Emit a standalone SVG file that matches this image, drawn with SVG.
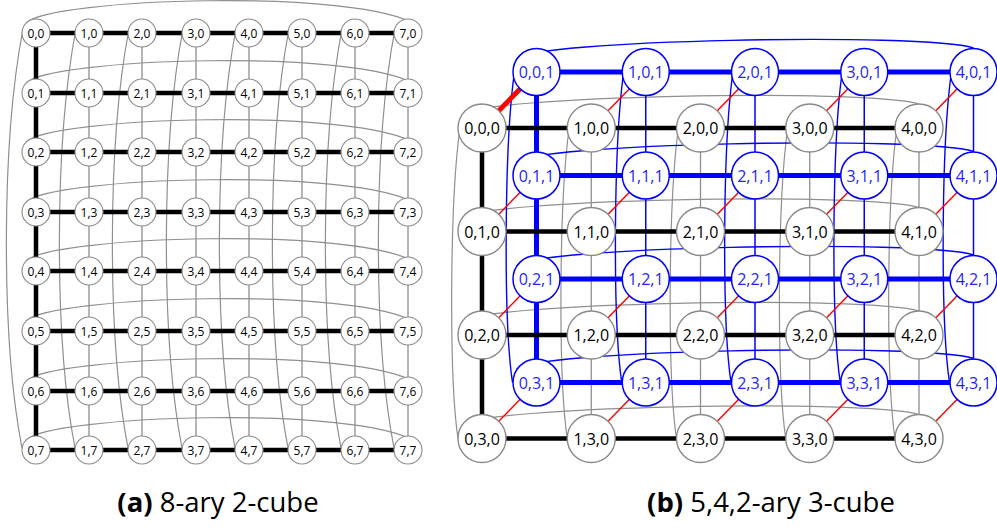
<svg xmlns="http://www.w3.org/2000/svg" width="997" height="529" viewBox="0 0 997 529">
<style>
  .bg { fill: #ffffff; }
  .wrap-g { fill: none; stroke: #8f8f8f; stroke-width: 1.2; }
  .wrap-b { fill: none; stroke: #0000ff; stroke-width: 1.4; }
  .thin-g { fill: none; stroke: #8f8f8f; stroke-width: 1.3; }
  .thin-b { fill: none; stroke: #0000ff; stroke-width: 1.5; }
  .thick-k { fill: none; stroke: #000000; stroke-width: 4.5; }
  .thick-b { fill: none; stroke: #0000ff; stroke-width: 5; }
  .thin-r { fill: none; stroke: #ff0000; stroke-width: 1.4; }
  .thick-r { fill: none; stroke: #ff0000; stroke-width: 5; }
  .sn circle { fill: #ffffff; stroke: #8a8a8a; stroke-width: 1.1; }
  .sn text { font-family: "Open Sans", "Liberation Sans", sans-serif; font-size: 12px; fill: #000000; text-anchor: middle; }
  .n0 circle { fill: #ffffff; stroke: #8a8a8a; stroke-width: 1.4; }
  .n0 text { font-family: "Open Sans", "Liberation Sans", sans-serif; font-size: 16px; fill: #000000; text-anchor: middle; }
  .n1 circle { fill: #ffffff; stroke: #0000ff; stroke-width: 1.5; }
  .n1 text { font-family: "Open Sans", "Liberation Sans", sans-serif; font-size: 16px; fill: #1f1fff; text-anchor: middle; }
  .cap { font-family: "Open Sans", "Liberation Sans", sans-serif; font-size: 27.5px; fill: #000000; text-anchor: middle; }
  .cap tspan.tag { font-weight: bold; }
</style>
<rect class="bg" x="0" y="0" width="997" height="529"/>

<!-- (a) 8-ary 2-cube: connectors -->
<g id="torus2d-links">
  <!-- wraparound links along each row -->
  <path class="wrap-g" d="M26,23 C50,-2 360,-12 416,25"/>
  <path class="wrap-g" d="M26,83 C50,58 360,48 416,85"/>
  <path class="wrap-g" d="M26,142 C50,117 360,107 416,144"/>
  <path class="wrap-g" d="M26,202 C50,177 360,167 416,204"/>
  <path class="wrap-g" d="M26,261 C50,236 360,226 416,263"/>
  <path class="wrap-g" d="M26,321 C50,296 360,286 416,323"/>
  <path class="wrap-g" d="M26,381 C50,356 360,346 416,383"/>
  <path class="wrap-g" d="M26,440 C50,415 360,405 416,442"/>
  <!-- wraparound links along each column -->
  <path class="wrap-g" d="M23,29 C1,143 1,340 22,448"/>
  <path class="wrap-g" d="M76,29 C54,143 54,340 75,448"/>
  <path class="wrap-g" d="M129,29 C107,143 107,340 128,448"/>
  <path class="wrap-g" d="M183,29 C161,143 161,340 182,448"/>
  <path class="wrap-g" d="M236,29 C214,143 214,340 235,448"/>
  <path class="wrap-g" d="M289,29 C267,143 267,340 288,448"/>
  <path class="wrap-g" d="M342,29 C320,143 320,340 341,448"/>
  <path class="wrap-g" d="M395,29 C373,143 373,340 394,448"/>
  <!-- column links -->
  <path class="thin-g" d="M89,33 V450 M142,33 V450 M196,33 V450 M249,33 V450 M302,33 V450 M355,33 V450 M408,33 V450"/>
  <path class="thick-k" d="M36,33 V450"/>
  <!-- row links -->
  <path class="thick-k" d="M36,33 H408 M36,93 H408 M36,152 H408 M36,212 H408 M36,271 H408 M36,331 H408 M36,391 H408 M36,450 H408"/>
</g>

<!-- (a) nodes -->
<g id="a-0-0" class="sn"><circle cx="36" cy="33" r="14"/><text x="36" y="37.5">0,0</text></g>
<g id="a-1-0" class="sn"><circle cx="89" cy="33" r="14"/><text x="89" y="37.5">1,0</text></g>
<g id="a-2-0" class="sn"><circle cx="142" cy="33" r="14"/><text x="142" y="37.5">2,0</text></g>
<g id="a-3-0" class="sn"><circle cx="196" cy="33" r="14"/><text x="196" y="37.5">3,0</text></g>
<g id="a-4-0" class="sn"><circle cx="249" cy="33" r="14"/><text x="249" y="37.5">4,0</text></g>
<g id="a-5-0" class="sn"><circle cx="302" cy="33" r="14"/><text x="302" y="37.5">5,0</text></g>
<g id="a-6-0" class="sn"><circle cx="355" cy="33" r="14"/><text x="355" y="37.5">6,0</text></g>
<g id="a-7-0" class="sn"><circle cx="408" cy="33" r="14"/><text x="408" y="37.5">7,0</text></g>

<g id="a-0-1" class="sn"><circle cx="36" cy="93" r="14"/><text x="36" y="97.5">0,1</text></g>
<g id="a-1-1" class="sn"><circle cx="89" cy="93" r="14"/><text x="89" y="97.5">1,1</text></g>
<g id="a-2-1" class="sn"><circle cx="142" cy="93" r="14"/><text x="142" y="97.5">2,1</text></g>
<g id="a-3-1" class="sn"><circle cx="196" cy="93" r="14"/><text x="196" y="97.5">3,1</text></g>
<g id="a-4-1" class="sn"><circle cx="249" cy="93" r="14"/><text x="249" y="97.5">4,1</text></g>
<g id="a-5-1" class="sn"><circle cx="302" cy="93" r="14"/><text x="302" y="97.5">5,1</text></g>
<g id="a-6-1" class="sn"><circle cx="355" cy="93" r="14"/><text x="355" y="97.5">6,1</text></g>
<g id="a-7-1" class="sn"><circle cx="408" cy="93" r="14"/><text x="408" y="97.5">7,1</text></g>

<g id="a-0-2" class="sn"><circle cx="36" cy="152" r="14"/><text x="36" y="156.5">0,2</text></g>
<g id="a-1-2" class="sn"><circle cx="89" cy="152" r="14"/><text x="89" y="156.5">1,2</text></g>
<g id="a-2-2" class="sn"><circle cx="142" cy="152" r="14"/><text x="142" y="156.5">2,2</text></g>
<g id="a-3-2" class="sn"><circle cx="196" cy="152" r="14"/><text x="196" y="156.5">3,2</text></g>
<g id="a-4-2" class="sn"><circle cx="249" cy="152" r="14"/><text x="249" y="156.5">4,2</text></g>
<g id="a-5-2" class="sn"><circle cx="302" cy="152" r="14"/><text x="302" y="156.5">5,2</text></g>
<g id="a-6-2" class="sn"><circle cx="355" cy="152" r="14"/><text x="355" y="156.5">6,2</text></g>
<g id="a-7-2" class="sn"><circle cx="408" cy="152" r="14"/><text x="408" y="156.5">7,2</text></g>

<g id="a-0-3" class="sn"><circle cx="36" cy="212" r="14"/><text x="36" y="216.5">0,3</text></g>
<g id="a-1-3" class="sn"><circle cx="89" cy="212" r="14"/><text x="89" y="216.5">1,3</text></g>
<g id="a-2-3" class="sn"><circle cx="142" cy="212" r="14"/><text x="142" y="216.5">2,3</text></g>
<g id="a-3-3" class="sn"><circle cx="196" cy="212" r="14"/><text x="196" y="216.5">3,3</text></g>
<g id="a-4-3" class="sn"><circle cx="249" cy="212" r="14"/><text x="249" y="216.5">4,3</text></g>
<g id="a-5-3" class="sn"><circle cx="302" cy="212" r="14"/><text x="302" y="216.5">5,3</text></g>
<g id="a-6-3" class="sn"><circle cx="355" cy="212" r="14"/><text x="355" y="216.5">6,3</text></g>
<g id="a-7-3" class="sn"><circle cx="408" cy="212" r="14"/><text x="408" y="216.5">7,3</text></g>

<g id="a-0-4" class="sn"><circle cx="36" cy="271" r="14"/><text x="36" y="275.5">0,4</text></g>
<g id="a-1-4" class="sn"><circle cx="89" cy="271" r="14"/><text x="89" y="275.5">1,4</text></g>
<g id="a-2-4" class="sn"><circle cx="142" cy="271" r="14"/><text x="142" y="275.5">2,4</text></g>
<g id="a-3-4" class="sn"><circle cx="196" cy="271" r="14"/><text x="196" y="275.5">3,4</text></g>
<g id="a-4-4" class="sn"><circle cx="249" cy="271" r="14"/><text x="249" y="275.5">4,4</text></g>
<g id="a-5-4" class="sn"><circle cx="302" cy="271" r="14"/><text x="302" y="275.5">5,4</text></g>
<g id="a-6-4" class="sn"><circle cx="355" cy="271" r="14"/><text x="355" y="275.5">6,4</text></g>
<g id="a-7-4" class="sn"><circle cx="408" cy="271" r="14"/><text x="408" y="275.5">7,4</text></g>

<g id="a-0-5" class="sn"><circle cx="36" cy="331" r="14"/><text x="36" y="335.5">0,5</text></g>
<g id="a-1-5" class="sn"><circle cx="89" cy="331" r="14"/><text x="89" y="335.5">1,5</text></g>
<g id="a-2-5" class="sn"><circle cx="142" cy="331" r="14"/><text x="142" y="335.5">2,5</text></g>
<g id="a-3-5" class="sn"><circle cx="196" cy="331" r="14"/><text x="196" y="335.5">3,5</text></g>
<g id="a-4-5" class="sn"><circle cx="249" cy="331" r="14"/><text x="249" y="335.5">4,5</text></g>
<g id="a-5-5" class="sn"><circle cx="302" cy="331" r="14"/><text x="302" y="335.5">5,5</text></g>
<g id="a-6-5" class="sn"><circle cx="355" cy="331" r="14"/><text x="355" y="335.5">6,5</text></g>
<g id="a-7-5" class="sn"><circle cx="408" cy="331" r="14"/><text x="408" y="335.5">7,5</text></g>

<g id="a-0-6" class="sn"><circle cx="36" cy="391" r="14"/><text x="36" y="395.5">0,6</text></g>
<g id="a-1-6" class="sn"><circle cx="89" cy="391" r="14"/><text x="89" y="395.5">1,6</text></g>
<g id="a-2-6" class="sn"><circle cx="142" cy="391" r="14"/><text x="142" y="395.5">2,6</text></g>
<g id="a-3-6" class="sn"><circle cx="196" cy="391" r="14"/><text x="196" y="395.5">3,6</text></g>
<g id="a-4-6" class="sn"><circle cx="249" cy="391" r="14"/><text x="249" y="395.5">4,6</text></g>
<g id="a-5-6" class="sn"><circle cx="302" cy="391" r="14"/><text x="302" y="395.5">5,6</text></g>
<g id="a-6-6" class="sn"><circle cx="355" cy="391" r="14"/><text x="355" y="395.5">6,6</text></g>
<g id="a-7-6" class="sn"><circle cx="408" cy="391" r="14"/><text x="408" y="395.5">7,6</text></g>

<g id="a-0-7" class="sn"><circle cx="36" cy="450" r="14"/><text x="36" y="454.5">0,7</text></g>
<g id="a-1-7" class="sn"><circle cx="89" cy="450" r="14"/><text x="89" y="454.5">1,7</text></g>
<g id="a-2-7" class="sn"><circle cx="142" cy="450" r="14"/><text x="142" y="454.5">2,7</text></g>
<g id="a-3-7" class="sn"><circle cx="196" cy="450" r="14"/><text x="196" y="454.5">3,7</text></g>
<g id="a-4-7" class="sn"><circle cx="249" cy="450" r="14"/><text x="249" y="454.5">4,7</text></g>
<g id="a-5-7" class="sn"><circle cx="302" cy="450" r="14"/><text x="302" y="454.5">5,7</text></g>
<g id="a-6-7" class="sn"><circle cx="355" cy="450" r="14"/><text x="355" y="454.5">6,7</text></g>
<g id="a-7-7" class="sn"><circle cx="408" cy="450" r="14"/><text x="408" y="454.5">7,7</text></g>

<!-- (b) 5,4,2-ary 3-cube: connectors -->
<g id="torus3d-links">
  <!-- layer z=0: wraparound links -->
  <path class="wrap-g" d="M462,115 C474,96 869,88 919,104"/>
  <path class="wrap-g" d="M462,218.5 C474,199.5 869,191.5 919,207.5"/>
  <path class="wrap-g" d="M462,322 C474,303 869,295 919,311"/>
  <path class="wrap-g" d="M462,425.5 C474,406.5 869,398.5 919,414.5"/>
  <path class="wrap-g" d="M462,115 C449,188 449,378.5 458,438.5"/>
  <path class="wrap-g" d="M571.25,115 C558.25,188 558.25,378.5 567.25,438.5"/>
  <path class="wrap-g" d="M680.5,115 C667.5,188 667.5,378.5 676.5,438.5"/>
  <path class="wrap-g" d="M789.75,115 C776.75,188 776.75,378.5 785.75,438.5"/>
  <path class="wrap-g" d="M899,115 C886,188 886,378.5 895,438.5"/>
  <!-- layer z=0: thin column links -->
  <path class="thin-g" d="M591.25,128 V438.5 M700.5,128 V438.5 M809.75,128 V438.5 M919,128 V438.5"/>

  <!-- layer z=1: wraparound links -->
  <path class="wrap-b" d="M516.5,59 C528.5,40 923.5,32 973.5,48"/>
  <path class="wrap-b" d="M516.5,162.5 C528.5,143.5 923.5,135.5 973.5,151.5"/>
  <path class="wrap-b" d="M516.5,266 C528.5,247 923.5,239 973.5,255"/>
  <path class="wrap-b" d="M516.5,369.5 C528.5,350.5 923.5,342.5 973.5,358.5"/>
  <path class="wrap-b" d="M516.5,59 C503.5,132 503.5,322.5 512.5,382.5"/>
  <path class="wrap-b" d="M625.75,59 C612.75,132 612.75,322.5 621.75,382.5"/>
  <path class="wrap-b" d="M735,59 C722,132 722,322.5 731,382.5"/>
  <path class="wrap-b" d="M844.25,59 C831.25,132 831.25,322.5 840.25,382.5"/>
  <path class="wrap-b" d="M953.5,59 C940.5,132 940.5,322.5 949.5,382.5"/>
  <!-- layer z=1: column and row links -->
  <path class="thin-b" d="M645.75,72 V382.5 M755,72 V382.5 M864.25,72 V382.5 M973.5,72 V382.5"/>
  <path class="thick-b" d="M536.5,72 V382.5"/>
  <path class="thick-b" d="M536.5,72 H973.5 M536.5,175.5 H973.5 M536.5,279 H973.5 M536.5,382.5 H973.5"/>

  <!-- layer z=0: row links and first column -->
  <path class="thick-k" d="M482,128 V438.5"/>
  <path class="thick-k" d="M482,128 H919 M482,231.5 H919 M482,335 H919 M482,438.5 H919"/>

  <!-- links between the two layers -->
  <path class="thick-r" d="M482,128 l54.5,-56"/>
  <path class="thin-r" d="M591.25,128 l54.5,-56 M700.5,128 l54.5,-56 M809.75,128 l54.5,-56 M919,128 l54.5,-56"/>
  <path class="thin-r" d="M482,231.5 l54.5,-56 M591.25,231.5 l54.5,-56 M700.5,231.5 l54.5,-56 M809.75,231.5 l54.5,-56 M919,231.5 l54.5,-56"/>
  <path class="thin-r" d="M482,335 l54.5,-56 M591.25,335 l54.5,-56 M700.5,335 l54.5,-56 M809.75,335 l54.5,-56 M919,335 l54.5,-56"/>
  <path class="thin-r" d="M482,438.5 l54.5,-56 M591.25,438.5 l54.5,-56 M700.5,438.5 l54.5,-56 M809.75,438.5 l54.5,-56 M919,438.5 l54.5,-56"/>
</g>

<!-- (b) nodes, layer z=1 -->
<g id="b-0-0-1" class="n1"><circle cx="536.5" cy="72" r="23.5"/><text x="536.5" y="78">0,0,1</text></g>
<g id="b-1-0-1" class="n1"><circle cx="645.75" cy="72" r="23.5"/><text x="645.75" y="78">1,0,1</text></g>
<g id="b-2-0-1" class="n1"><circle cx="755" cy="72" r="23.5"/><text x="755" y="78">2,0,1</text></g>
<g id="b-3-0-1" class="n1"><circle cx="864.25" cy="72" r="23.5"/><text x="864.25" y="78">3,0,1</text></g>
<g id="b-4-0-1" class="n1"><circle cx="973.5" cy="72" r="23.5"/><text x="973.5" y="78">4,0,1</text></g>

<g id="b-0-1-1" class="n1"><circle cx="536.5" cy="175.5" r="23.5"/><text x="536.5" y="181.5">0,1,1</text></g>
<g id="b-1-1-1" class="n1"><circle cx="645.75" cy="175.5" r="23.5"/><text x="645.75" y="181.5">1,1,1</text></g>
<g id="b-2-1-1" class="n1"><circle cx="755" cy="175.5" r="23.5"/><text x="755" y="181.5">2,1,1</text></g>
<g id="b-3-1-1" class="n1"><circle cx="864.25" cy="175.5" r="23.5"/><text x="864.25" y="181.5">3,1,1</text></g>
<g id="b-4-1-1" class="n1"><circle cx="973.5" cy="175.5" r="23.5"/><text x="973.5" y="181.5">4,1,1</text></g>

<g id="b-0-2-1" class="n1"><circle cx="536.5" cy="279" r="23.5"/><text x="536.5" y="285">0,2,1</text></g>
<g id="b-1-2-1" class="n1"><circle cx="645.75" cy="279" r="23.5"/><text x="645.75" y="285">1,2,1</text></g>
<g id="b-2-2-1" class="n1"><circle cx="755" cy="279" r="23.5"/><text x="755" y="285">2,2,1</text></g>
<g id="b-3-2-1" class="n1"><circle cx="864.25" cy="279" r="23.5"/><text x="864.25" y="285">3,2,1</text></g>
<g id="b-4-2-1" class="n1"><circle cx="973.5" cy="279" r="23.5"/><text x="973.5" y="285">4,2,1</text></g>

<g id="b-0-3-1" class="n1"><circle cx="536.5" cy="382.5" r="23.5"/><text x="536.5" y="388.5">0,3,1</text></g>
<g id="b-1-3-1" class="n1"><circle cx="645.75" cy="382.5" r="23.5"/><text x="645.75" y="388.5">1,3,1</text></g>
<g id="b-2-3-1" class="n1"><circle cx="755" cy="382.5" r="23.5"/><text x="755" y="388.5">2,3,1</text></g>
<g id="b-3-3-1" class="n1"><circle cx="864.25" cy="382.5" r="23.5"/><text x="864.25" y="388.5">3,3,1</text></g>
<g id="b-4-3-1" class="n1"><circle cx="973.5" cy="382.5" r="23.5"/><text x="973.5" y="388.5">4,3,1</text></g>

<!-- (b) nodes, layer z=0 -->
<g id="b-0-0-0" class="n0"><circle cx="482" cy="128" r="24"/><text x="482" y="134">0,0,0</text></g>
<g id="b-1-0-0" class="n0"><circle cx="591.25" cy="128" r="24"/><text x="591.25" y="134">1,0,0</text></g>
<g id="b-2-0-0" class="n0"><circle cx="700.5" cy="128" r="24"/><text x="700.5" y="134">2,0,0</text></g>
<g id="b-3-0-0" class="n0"><circle cx="809.75" cy="128" r="24"/><text x="809.75" y="134">3,0,0</text></g>
<g id="b-4-0-0" class="n0"><circle cx="919" cy="128" r="24"/><text x="919" y="134">4,0,0</text></g>

<g id="b-0-1-0" class="n0"><circle cx="482" cy="231.5" r="24"/><text x="482" y="237.5">0,1,0</text></g>
<g id="b-1-1-0" class="n0"><circle cx="591.25" cy="231.5" r="24"/><text x="591.25" y="237.5">1,1,0</text></g>
<g id="b-2-1-0" class="n0"><circle cx="700.5" cy="231.5" r="24"/><text x="700.5" y="237.5">2,1,0</text></g>
<g id="b-3-1-0" class="n0"><circle cx="809.75" cy="231.5" r="24"/><text x="809.75" y="237.5">3,1,0</text></g>
<g id="b-4-1-0" class="n0"><circle cx="919" cy="231.5" r="24"/><text x="919" y="237.5">4,1,0</text></g>

<g id="b-0-2-0" class="n0"><circle cx="482" cy="335" r="24"/><text x="482" y="341">0,2,0</text></g>
<g id="b-1-2-0" class="n0"><circle cx="591.25" cy="335" r="24"/><text x="591.25" y="341">1,2,0</text></g>
<g id="b-2-2-0" class="n0"><circle cx="700.5" cy="335" r="24"/><text x="700.5" y="341">2,2,0</text></g>
<g id="b-3-2-0" class="n0"><circle cx="809.75" cy="335" r="24"/><text x="809.75" y="341">3,2,0</text></g>
<g id="b-4-2-0" class="n0"><circle cx="919" cy="335" r="24"/><text x="919" y="341">4,2,0</text></g>

<g id="b-0-3-0" class="n0"><circle cx="482" cy="438.5" r="24"/><text x="482" y="444.5">0,3,0</text></g>
<g id="b-1-3-0" class="n0"><circle cx="591.25" cy="438.5" r="24"/><text x="591.25" y="444.5">1,3,0</text></g>
<g id="b-2-3-0" class="n0"><circle cx="700.5" cy="438.5" r="24"/><text x="700.5" y="444.5">2,3,0</text></g>
<g id="b-3-3-0" class="n0"><circle cx="809.75" cy="438.5" r="24"/><text x="809.75" y="444.5">3,3,0</text></g>
<g id="b-4-3-0" class="n0"><circle cx="919" cy="438.5" r="24"/><text x="919" y="444.5">4,3,0</text></g>

<!-- captions -->
<text class="cap" x="218" y="512"><tspan class="tag">(a)</tspan> 8-ary 2-cube</text>
<text class="cap" x="771" y="512"><tspan class="tag">(b)</tspan> 5,4,2-ary 3-cube</text>
</svg>
